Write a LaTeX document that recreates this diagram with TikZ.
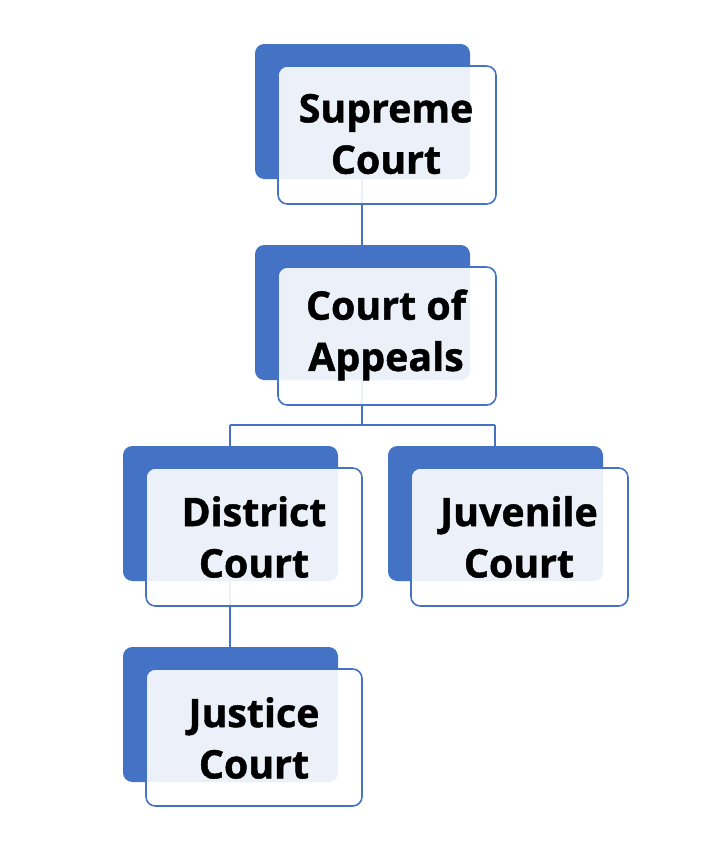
\documentclass[tikz,border=0pt]{standalone}
\usepackage{fontspec}
\setmainfont{Open Sans}[FakeBold=1.2]
\begin{document}
\begin{tikzpicture}[x=0.75pt,y=-0.75pt]
\definecolor{bl}{HTML}{4472C4}
\tikzset{back/.style={fill=bl,rounded corners=7pt},
front/.style={draw=bl,line width=1.2pt,fill=white,fill opacity=0.9,text opacity=1,rounded corners=7pt},
lbl/.style={font=\fontsize{29.5}{38.5}\selectfont\bfseries,align=center,text=black},
conn/.style={draw=bl,line width=1.1pt}}
\useasboundingbox (0,0) rectangle (720,865);
\newcommand\unit[4]{%
\fill[back] (#2,#3) rectangle ++(215,135);
\coordinate (#1t) at (#2+107,#3);
\coordinate (#1b) at (#2+107,#3+135);
}
\unit{s}{255}{44}{}
\unit{a}{255}{245}{}
\unit{d}{123}{446}{}
\unit{j}{388}{446}{}
\unit{u}{123}{647}{}
\coordinate (h1) at (230,425);
\coordinate (h2) at (495,425);
\coordinate (am) at (362,425);
\draw[conn] (sb) -- (at);
\draw[conn] (ab) -- (am);
\draw[conn] (h1) -- (h2);
\draw[conn] (h1) -- (230,446);
\draw[conn] (h2) -- (495,446);
\draw[conn] (230,581) -- (230,647);
\path[front] (278,66) rectangle (496,204);
\path[front] (278,267) rectangle (496,405);
\path[front] (146,468) rectangle (362,606);
\path[front] (411,468) rectangle (628,606);
\path[front] (146,669) rectangle (362,806);
\node[lbl] (S) at (386,134) {Supreme\\Court};
\node[lbl] (A) at (386,335) {Court of\\Appeals};
\node[lbl] (D) at (254,537) {District\\Court};
\node[lbl] (J) at (519,537) {Juvenile\\Court};
\node[lbl] (U) at (254,738) {Justice\\Court};
\end{tikzpicture}
\end{document}
